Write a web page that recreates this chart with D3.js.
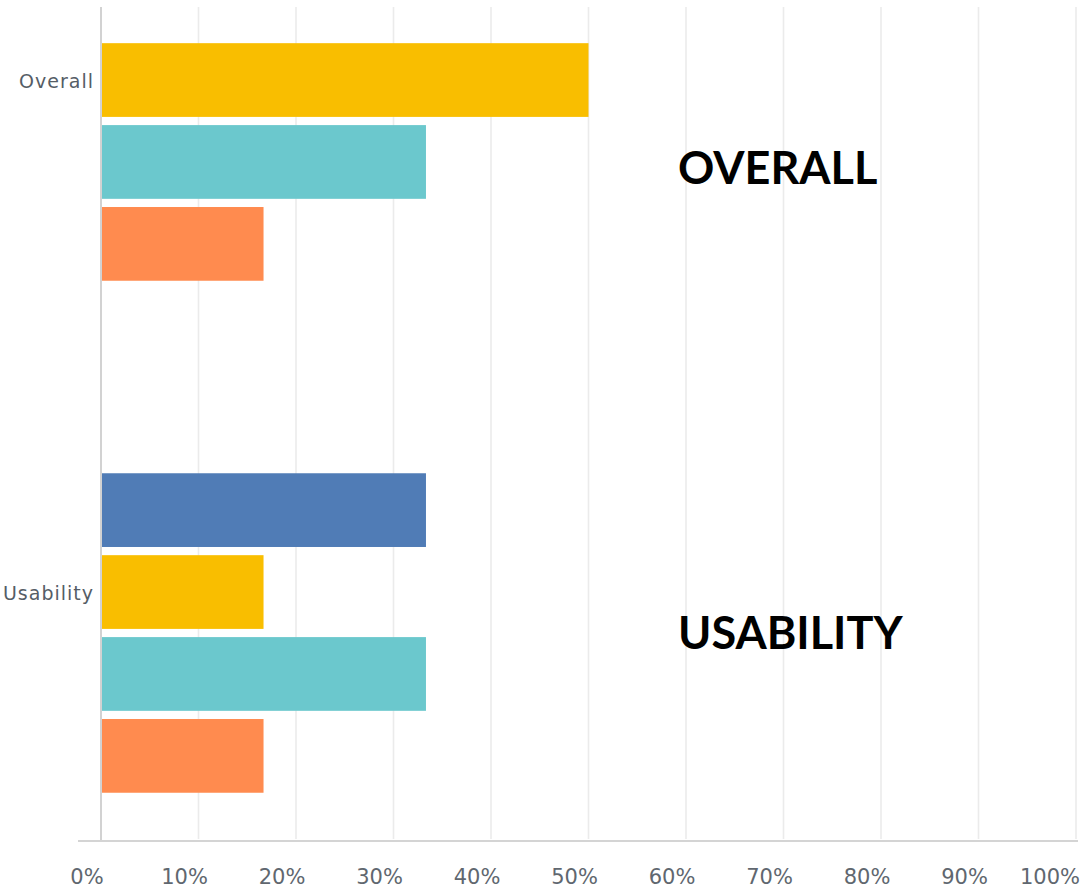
<!DOCTYPE html>
<html>
<head>
<meta charset="utf-8">
<script src="https://cdn.jsdelivr.net/npm/d3@7"></script>
<style>
  html, body { margin: 0; padding: 0; background: #ffffff; }
  svg { display: block; }
</style>
</head>
<body>
<svg id="chart" width="1081" height="889"></svg>
<script>
// Survey results: share of responses per answer choice, by question area
const categories = ["Overall", "Usability"];
const seriesNames = ["Choice 1", "Choice 2", "Choice 3", "Choice 4"];
const seriesColors = ["#507cb6", "#f9be00", "#6bc8cd", "#ff8b4f"];
const overallValues = [0, 50, 33.33, 16.67];
const usabilityValues = [33.33, 16.67, 33.33, 16.67];
const tickValues = [0, 10, 20, 30, 40, 50, 60, 70, 80, 90, 100];
const tickLabels = ["0%", "10%", "20%", "30%", "40%", "50%", "60%", "70%", "80%", "90%", "100%"];
const sectionTitles = ["OVERALL", "USABILITY"];

const rows = categories.map((c, i) => ({
  category: c,
  values: [overallValues, usabilityValues][i].map((v, j) => ({ series: seriesNames[j], value: v }))
}));

const W = 1081, H = 889;
const plot = { left: 101, right: 1076, top: 7, bottom: 841 };

const svg = d3.select("#chart");

const x = d3.scaleLinear().domain([0, 100]).range([plot.left, plot.right]);

// The category bands run past the top of the visible frame
const y0 = d3.scaleBand()
  .domain(categories)
  .range([-135, 889])
  .paddingInner(0.344)
  .paddingOuter(0.172);

const y1 = d3.scaleBand()
  .domain(seriesNames)
  .range([0, y0.bandwidth()])
  .paddingInner(0.1)
  .paddingOuter(0.1);

const color = d3.scaleOrdinal().domain(seriesNames).range(seriesColors);

// Vertical gridlines
svg.append("g")
  .selectAll("line")
  .data(tickValues.slice(1))
  .join("line")
  .attr("x1", d => x(d)).attr("x2", d => x(d))
  .attr("y1", plot.top).attr("y2", plot.bottom - 2)
  .attr("stroke", "#ebebeb")
  .attr("stroke-width", 1.6);

// Bars
const groups = svg.append("g")
  .selectAll("g")
  .data(rows)
  .join("g")
  .attr("transform", d => `translate(0,${y0(d.category)})`);

groups.selectAll("rect")
  .data(d => d.values)
  .join("rect")
  .attr("x", x(0))
  .attr("y", d => y1(d.series))
  .attr("width", d => x(d.value) - x(0))
  .attr("height", y1.bandwidth())
  .attr("fill", d => color(d.series));

// Left axis line
svg.append("line")
  .attr("x1", plot.left).attr("x2", plot.left)
  .attr("y1", plot.top).attr("y2", plot.bottom)
  .attr("stroke", "#d2d2d2")
  .attr("stroke-width", 2);

// Baseline
svg.append("line")
  .attr("x1", 78).attr("x2", 1078)
  .attr("y1", plot.bottom).attr("y2", plot.bottom)
  .attr("stroke", "#d4d4d4")
  .attr("stroke-width", 2);

// Category labels
svg.append("g")
  .selectAll("text")
  .data(categories)
  .join("text")
  .attr("x", plot.left - 7)
  .attr("y", d => y0(d) + y0.bandwidth() / 2 - 39)
  .attr("text-anchor", "end")
  .attr("dominant-baseline", "middle")
  .attr("font-family", "DejaVu Sans, sans-serif")
  .attr("font-size", 19)
  .attr("letter-spacing", 1)
  .attr("fill", "#555d66")
  .text(d => d);

// Percentage tick labels
svg.append("g")
  .selectAll("text")
  .data(tickValues)
  .join("text")
  .attr("x", (d, i) => i === tickValues.length - 1 ? W - 1 : x(d) - 14)
  .attr("y", 884)
  .attr("text-anchor", (d, i) => i === tickValues.length - 1 ? "end" : "middle")
  .attr("font-family", "DejaVu Sans, sans-serif")
  .attr("font-size", 21)
  .attr("fill", "#60676f")
  .text((d, i) => tickLabels[i]);

// Section titles
const titleY = [184, 649];
svg.append("g")
  .selectAll("text")
  .data(sectionTitles)
  .join("text")
  .attr("x", 678)
  .attr("y", (d, i) => titleY[i])
  .attr("font-family", "Lato, sans-serif")
  .attr("font-weight", 700)
  .attr("font-size", 45)
  .attr("fill", "#000000")
  .text(d => d);
</script>
</body>
</html>
